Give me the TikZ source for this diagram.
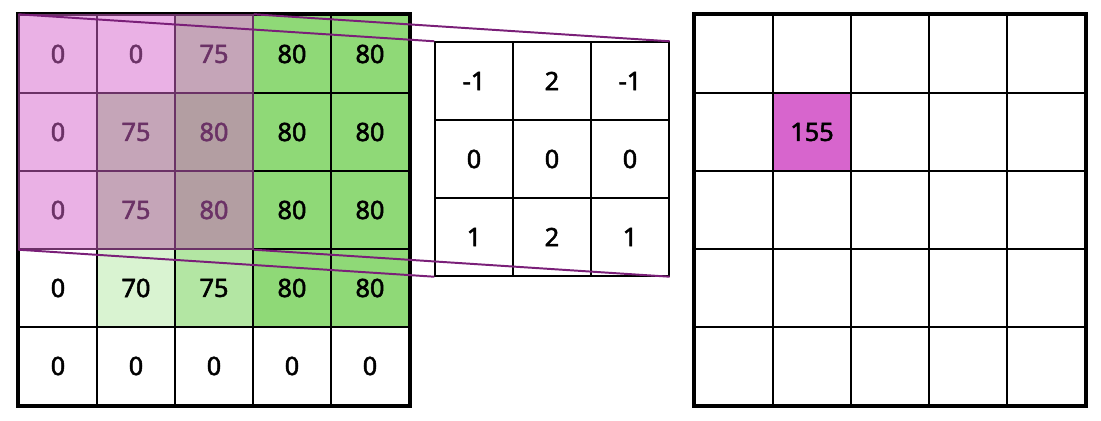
\documentclass[tikz,border=0pt]{standalone}
\usepackage{fontspec}
\setmainfont{Noto Sans}
\newfontfamily\cellfont{Noto Sans}[FakeBold=2]
\usepackage{tikz}
\usetikzlibrary{shapes,positioning,calc,backgrounds}
\usepackage{xcolor}

\definecolor{shade0}{RGB}{255, 255, 255}
\definecolor{shade70}{RGB}{217, 243, 209}
\definecolor{shade75}{RGB}{179, 230, 163}
\definecolor{shade80}{RGB}{143, 217, 119}
\definecolor{windowPink}{RGB}{215, 101, 205}
\definecolor{linkViolet}{RGB}{122, 31, 120}

\begin{document}
\begin{tikzpicture}[x=0.025cm,y=-0.025cm,
        cell/.style={draw=black,line width=1pt,minimum size=1.95cm,inner sep=0pt,
                     font=\cellfont\fontsize{18}{21}\selectfont},
        frame/.style={draw=black,line width=2.6pt},
        link/.style={draw=linkViolet,line width=1.4pt}]
    \useasboundingbox (0,0) rectangle (1101,421);

    % input image
    \foreach \row [count=\r] in {{0,0,75,80,80},{0,75,80,80,80},{0,75,80,80,80},{0,70,75,80,80},{0,0,0,0,0}}
        \foreach \v [count=\c] in \row
            \node[cell,fill=shade\v] (in-\r-\c) at ({19+78*(\c-0.5)},{15+78*(\r-0.5)}) {\v};
    \draw[frame] (in-1-1.north west) rectangle (in-5-5.south east);

    % kernel
    \foreach \row [count=\r] in {{-1,2,-1},{0,0,0},{1,2,1}}
        \foreach \v [count=\c] in \row
            \node[cell] (k-\r-\c) at ({435+78*(\c-0.5)},{42+78*(\r-0.5)}) {\v};

    % output
    \foreach \r in {1,...,5}
        \foreach \c in {1,...,5}
            \node[cell] (out-\r-\c) at ({695+78*(\c-0.5)},{15+78*(\r-0.5)}) {};
    \node[cell,fill=windowPink] at (out-2-2) {155};
    \draw[frame] (out-1-1.north west) rectangle (out-5-5.south east);

    % sliding window
    \fill[windowPink,opacity=0.5] (in-1-1.north west) rectangle (in-3-3.south east);
    \draw[link] (in-1-1.north west) -- (k-1-1.north west);
    \draw[link] (in-1-3.north east) -- (k-1-3.north east);
    \draw[link] (in-3-1.south west) -- (k-3-1.south west);
    \draw[link] (in-3-3.south east) -- (k-3-3.south east);
\end{tikzpicture}
\end{document}
